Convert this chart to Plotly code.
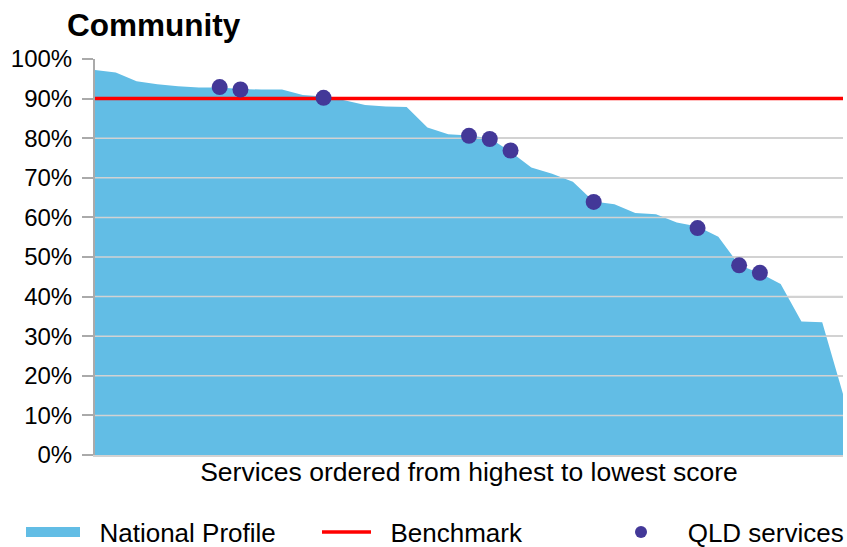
import plotly.graph_objects as go

# ---- data ----
national_profile = [0.972, 0.966, 0.944, 0.936, 0.931, 0.928, 0.928, 0.924, 0.923, 0.923,
                    0.909, 0.905, 0.896, 0.884, 0.880, 0.879, 0.827, 0.810, 0.807, 0.800,
                    0.766, 0.726, 0.710, 0.690, 0.640, 0.633, 0.611, 0.608, 0.587, 0.577,
                    0.551, 0.480, 0.459, 0.432, 0.337, 0.335, 0.154]
services_index = list(range(len(national_profile)))
benchmark = 0.90
qld_index = [6, 7, 11, 18, 19, 20, 24, 29, 31, 32]
qld_values = [0.929, 0.923, 0.902, 0.806, 0.798, 0.769, 0.639, 0.573, 0.479, 0.460]
y_ticks = [0.0, 0.1, 0.2, 0.3, 0.4, 0.5, 0.6, 0.7, 0.8, 0.9, 1.0]

BLUE = "rgb(98,189,229)"
RED = "rgb(255,0,0)"
PURPLE = "rgb(67,56,152)"
GRID = "rgb(210,210,210)"
AXIS = "rgb(170,170,170)"
FONT = "Liberation Sans, Arial, sans-serif"
NB = "\u00a0"

W, H = 847, 547

fig = go.Figure()

# area (national profile)
fig.add_trace(go.Scatter(
    x=services_index, y=national_profile, mode="lines", fill="tozeroy",
    line=dict(width=0, color=BLUE), fillcolor=BLUE, showlegend=False,
    hoverinfo="skip"))

# gridlines drawn above the area
gx, gy = [], []
for t in y_ticks[1:-1]:
    gx += [services_index[0], services_index[-1], None]
    gy += [t, t, None]
fig.add_trace(go.Scatter(x=gx, y=gy, mode="lines",
                         line=dict(color=GRID, width=1.5),
                         showlegend=False, hoverinfo="skip"))

# legend-only entry for the area
fig.add_trace(go.Scatter(x=[None], y=[None], mode="lines",
                         line=dict(color=BLUE, width=10),
                         name=NB * 2 + "National Profile", legend="legend"))

# benchmark
fig.add_trace(go.Scatter(
    x=services_index, y=[benchmark] * len(services_index), mode="lines",
    line=dict(color=RED, width=3.5), name=NB * 2 + "Benchmark", legend="legend2"))

# QLD services
fig.add_trace(go.Scatter(
    x=qld_index, y=qld_values, mode="markers",
    marker=dict(color=PURPLE, size=16, line=dict(width=0)),
    name=NB * 3 + "QLD services", legend="legend3"))

legend_common = dict(orientation="h", xref="container", yref="container",
                     xanchor="left", y=1 - 532 / H, yanchor="middle",
                     font=dict(family=FONT, size=26, color="black"),
                     bgcolor="rgba(0,0,0,0)")

fig.update_layout(
    width=W, height=H,
    margin=dict(l=95, r=4, t=59, b=92),
    paper_bgcolor="white", plot_bgcolor="white",
    font=dict(family=FONT, size=24, color="black"),
    title=dict(text="<b>Community</b>", font=dict(family=FONT, size=31.5, color="black"),
               x=67 / W, xanchor="left", xref="container",
               y=1 - 25 / H, yanchor="middle", yref="container"),
    showlegend=True,
    legend=dict(legend_common, x=21 / W, itemwidth=54),
    legend2=dict(legend_common, x=317 / W, itemwidth=49),
    legend3=dict(legend_common, x=616 / W, itemwidth=40, itemsizing="constant"),
)

fig.update_xaxes(range=[services_index[0], services_index[-1]],
                 showticklabels=False, ticks="", showgrid=False, zeroline=False,
                 showline=True, linecolor=GRID, linewidth=2,
                 title=dict(text="Services ordered from highest to lowest score",
                            font=dict(family=FONT, size=26.5, color="black"), standoff=6))

fig.update_yaxes(range=[0, 1], tickvals=y_ticks, tickformat=".0%",
                 showgrid=True, gridcolor=GRID, gridwidth=1.5, zeroline=False,
                 showline=True, linecolor=AXIS, linewidth=2,
                 ticks="outside", ticklen=11, tickwidth=2, tickcolor=AXIS,
                 ticklabelstandoff=5,
                 tickfont=dict(family=FONT, size=24, color="black"))

fig.write_html("out.html", config={"displayModeBar": False},
               post_script="document.body.style.margin='0';document.body.style.overflow='hidden';")
